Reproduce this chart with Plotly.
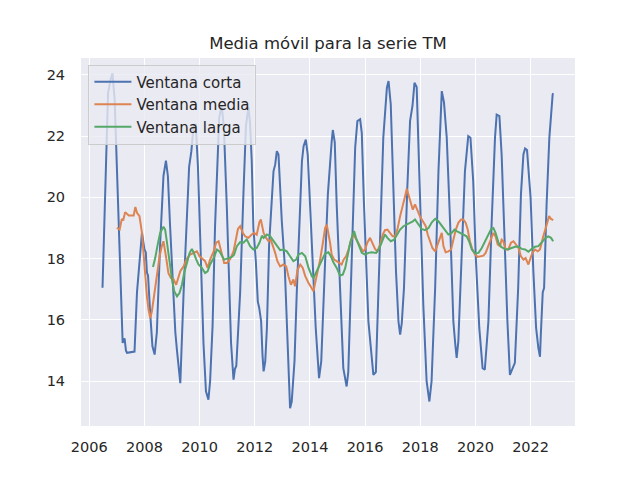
import plotly.graph_objects as go

# ---------------- data (decimal years) ----------------
corta_x = [2006.48, 2006.58, 2006.68, 2006.76, 2006.84, 2006.92, 2006.97, 2007.04, 2007.12, 2007.21,
           2007.28, 2007.33, 2007.37, 2007.64, 2007.73, 2007.85, 2007.91, 2008.00, 2008.05, 2008.09,
           2008.13, 2008.21, 2008.29, 2008.37, 2008.45, 2008.57, 2008.69, 2008.78, 2008.85, 2008.93,
           2009.02, 2009.12, 2009.18, 2009.30, 2009.42, 2009.54, 2009.62, 2009.70, 2009.78, 2009.86,
           2009.94, 2009.99, 2010.06, 2010.14, 2010.23, 2010.32, 2010.38, 2010.47, 2010.56, 2010.65,
           2010.71, 2010.80, 2010.88, 2010.99, 2011.07, 2011.14, 2011.23, 2011.28, 2011.33, 2011.47,
           2011.59, 2011.68, 2011.77, 2011.83, 2011.89, 2011.95, 2012.04, 2012.11, 2012.16, 2012.23,
           2012.28, 2012.32, 2012.38, 2012.44, 2012.52, 2012.62, 2012.68, 2012.74, 2012.80, 2012.86,
           2012.92, 2012.98, 2013.08, 2013.16, 2013.22, 2013.28, 2013.34, 2013.44, 2013.52, 2013.61,
           2013.71, 2013.77, 2013.85, 2013.92, 2014.01, 2014.07, 2014.13, 2014.21, 2014.29, 2014.33,
           2014.41, 2014.49, 2014.55, 2014.65, 2014.71, 2014.79, 2014.83, 2014.90, 2014.97, 2015.09,
           2015.21, 2015.33, 2015.39, 2015.52, 2015.64, 2015.72, 2015.82, 2015.88, 2015.96, 2016.12,
           2016.30, 2016.39, 2016.52, 2016.66, 2016.79, 2016.85, 2016.93, 2017.03, 2017.12, 2017.21,
           2017.27, 2017.33, 2017.41, 2017.53, 2017.63, 2017.72, 2017.79, 2017.87, 2017.93, 2018.02,
           2018.11, 2018.23, 2018.33, 2018.41, 2018.54, 2018.66, 2018.78, 2018.86, 2018.96, 2019.08,
           2019.20, 2019.27, 2019.32, 2019.38, 2019.50, 2019.62, 2019.74, 2019.82, 2019.92, 2020.01,
           2020.14, 2020.26, 2020.34, 2020.47, 2020.59, 2020.71, 2020.77, 2020.87, 2020.95, 2021.07,
           2021.16, 2021.25, 2021.35, 2021.43, 2021.55, 2021.65, 2021.74, 2021.80, 2021.87, 2021.95,
           2022.00, 2022.10, 2022.20, 2022.28, 2022.34, 2022.37, 2022.44, 2022.49, 2022.58, 2022.68,
           2022.74, 2022.80, 2022.82]
corta_y = [17.05, 20.2, 23.4, 23.8, 24.05, 23.2, 21.8, 19.6, 17.4, 15.25,
           15.4, 15.0, 14.93, 14.97, 16.9, 18.4, 18.85, 18.3, 18.2, 17.55,
           17.45, 16.2, 15.14, 14.87, 15.6, 18.5, 20.7, 21.2, 20.7, 19.06,
           17.4, 15.6, 15.0, 13.94, 16.9, 19.6, 21.0, 21.5, 22.3, 22.4,
           21.0, 19.6, 17.43, 15.25, 13.67, 13.4, 14.0, 15.8, 19.06, 21.24,
           22.6, 23.0, 22.3, 19.6, 17.4, 15.25, 14.05, 14.4, 14.5, 16.9,
           20.15, 22.33, 22.95, 22.4, 21.2, 19.0, 17.9, 16.6, 16.4, 15.96,
           14.87, 14.32, 14.65, 15.74, 18.46, 20.1, 20.86, 21.07, 21.51, 21.4,
           20.1, 19.22, 17.9, 15.74, 14.21, 13.12, 13.34, 14.65, 16.83, 19.0,
           21.18, 21.67, 21.89, 21.4, 19.55, 18.13, 16.83, 15.74, 14.65, 14.1,
           14.65, 16.28, 17.9, 20.1, 20.97, 21.84, 22.2, 21.8, 19.77, 17.05,
           14.43, 13.83, 14.3, 18.13, 21.62, 22.49, 22.55, 22.1, 19.77, 15.95,
           14.21, 14.3, 18.13, 21.95, 23.58, 23.8, 23.04, 20.31, 17.59, 15.95,
           15.52, 15.9, 17.05, 20.31, 22.49, 23.0, 23.74, 23.6, 21.95, 19.22,
           16.5, 14.0, 13.34, 14.0, 17.05, 20.86, 23.47, 23.1, 21.95, 19.22,
           15.95, 15.2, 14.76, 15.3, 18.13, 20.86, 22.0, 21.95, 20.53, 18.1,
           15.74, 14.43, 14.38, 15.95, 19.22, 21.95, 22.7, 22.65, 21.4, 18.13,
           15.95, 14.21, 14.4, 14.6, 17.05, 20.1, 21.4, 21.6, 21.55, 20.5,
           19.99, 17.6, 15.74, 15.1, 14.8, 15.5, 16.9, 17.05, 19.77, 21.95,
           22.82, 23.36, 23.4]

media_x = [2007.00, 2007.10, 2007.18, 2007.23, 2007.30, 2007.43, 2007.61, 2007.67, 2007.73, 2007.82,
           2007.91, 2007.95, 2008.03, 2008.09, 2008.15, 2008.21, 2008.27, 2008.36, 2008.45, 2008.55,
           2008.63, 2008.69, 2008.78, 2008.87, 2008.96, 2009.06, 2009.15, 2009.24, 2009.30, 2009.42,
           2009.52, 2009.64, 2009.76, 2009.90, 2010.00, 2010.08, 2010.20, 2010.29, 2010.38, 2010.51,
           2010.60, 2010.69, 2010.75, 2010.81, 2010.89, 2010.99, 2011.11, 2011.23, 2011.33, 2011.39,
           2011.47, 2011.57, 2011.65, 2011.77, 2011.89, 2011.98, 2012.07, 2012.17, 2012.22, 2012.32,
           2012.41, 2012.50, 2012.58, 2012.65, 2012.74, 2012.82, 2012.92, 2013.04, 2013.14, 2013.22,
           2013.31, 2013.40, 2013.46, 2013.55, 2013.65, 2013.74, 2013.83, 2013.95, 2014.07, 2014.13,
           2014.19, 2014.27, 2014.37, 2014.47, 2014.55, 2014.61, 2014.67, 2014.73, 2014.79, 2014.88,
           2014.97, 2015.07, 2015.15, 2015.22, 2015.31, 2015.40, 2015.48, 2015.58, 2015.72, 2015.82,
           2015.92, 2016.00, 2016.08, 2016.18, 2016.28, 2016.36, 2016.45, 2016.54, 2016.64, 2016.72,
           2016.81, 2016.91, 2017.00, 2017.09, 2017.17, 2017.27, 2017.37, 2017.45, 2017.51, 2017.57,
           2017.63, 2017.73, 2017.81, 2017.90, 2018.00, 2018.11, 2018.20, 2018.27, 2018.36, 2018.44,
           2018.54, 2018.63, 2018.72, 2018.78, 2018.84, 2018.92, 2019.02, 2019.12, 2019.20, 2019.29,
           2019.38, 2019.48, 2019.56, 2019.65, 2019.72, 2019.80, 2019.89, 2019.99, 2020.08, 2020.17,
           2020.29, 2020.37, 2020.47, 2020.57, 2020.65, 2020.73, 2020.81, 2020.89, 2020.95, 2021.01,
           2021.10, 2021.19, 2021.29, 2021.38, 2021.46, 2021.56, 2021.65, 2021.74, 2021.82, 2021.92,
           2021.98, 2022.06, 2022.16, 2022.26, 2022.34, 2022.40, 2022.46, 2022.55, 2022.62, 2022.67,
           2022.74, 2022.82]
media_y = [19.01, 18.95, 19.3, 19.25, 19.52, 19.41, 19.41, 19.69, 19.5, 19.39,
           18.84, 18.3, 17.32, 16.77, 16.33, 16.06, 16.28, 16.88, 17.53, 18.08,
           18.41, 18.57, 18.08, 17.53, 17.37, 17.32, 17.15, 17.43, 17.59, 17.75,
           17.97, 18.13, 18.19, 18.24, 18.08, 18.02, 17.92, 17.7, 17.97, 18.24,
           18.52, 18.57, 18.35, 18.08, 17.86, 17.86, 17.99, 18.24, 18.63, 18.97,
           19.06, 18.84, 18.73, 18.68, 18.79, 18.84, 18.78, 19.2, 19.28, 18.84,
           18.68, 18.57, 18.62, 18.46, 18.19, 17.92, 17.75, 17.81, 17.75, 17.43,
           17.15, 17.32, 17.1, 17.64, 17.81, 17.7, 17.43, 17.21, 17.04, 16.94,
           17.21, 17.53, 17.97, 18.52, 19.0, 19.11, 18.84, 18.52, 18.13, 17.97,
           17.92, 17.86, 17.81, 17.97, 18.08, 18.3, 18.57, 18.79, 18.57, 18.41,
           18.24, 18.3, 18.52, 18.68, 18.46, 18.32, 18.24, 18.46, 18.79, 18.93,
           18.95, 18.84, 18.73, 18.73, 18.95, 19.39, 19.71, 20.04, 20.28, 20.1,
           19.88, 19.6, 19.77, 19.55, 19.36, 19.2, 19.06, 18.79, 18.57, 18.35,
           18.24, 18.46, 18.73, 18.84, 18.41, 18.21, 18.24, 18.3, 18.62, 18.95,
           19.17, 19.28, 19.28, 19.17, 18.95, 18.57, 18.3, 18.13, 18.06, 18.08,
           18.1, 18.19, 18.41, 18.68, 18.84, 18.73, 18.46, 18.41, 18.62, 18.57,
           18.3, 18.3, 18.52, 18.57, 18.46, 18.35, 18.08, 17.97, 18.02, 17.81,
           17.97, 18.19, 18.3, 18.24, 18.3, 18.57, 18.73, 19.0, 19.28, 19.39,
           19.3, 19.26]

larga_x = [2008.31, 2008.39, 2008.48, 2008.57, 2008.69, 2008.75, 2008.81, 2008.91, 2009.00, 2009.08,
           2009.18, 2009.27, 2009.36, 2009.44, 2009.54, 2009.64, 2009.72, 2009.78, 2009.88, 2009.96,
           2010.08, 2010.20, 2010.29, 2010.38, 2010.51, 2010.63, 2010.72, 2010.81, 2010.89, 2011.05,
           2011.17, 2011.25, 2011.35, 2011.47, 2011.59, 2011.71, 2011.83, 2011.95, 2012.07, 2012.17,
           2012.26, 2012.32, 2012.44, 2012.56, 2012.68, 2012.80, 2012.92, 2013.04, 2013.16, 2013.28,
           2013.40, 2013.50, 2013.58, 2013.71, 2013.83, 2013.95, 2014.07, 2014.13, 2014.22, 2014.31,
           2014.43, 2014.55, 2014.67, 2014.76, 2014.85, 2014.97, 2015.09, 2015.19, 2015.28, 2015.36,
           2015.46, 2015.55, 2015.60, 2015.67, 2015.76, 2015.88, 2016.00, 2016.12, 2016.24, 2016.40,
           2016.52, 2016.64, 2016.72, 2016.81, 2016.93, 2017.05, 2017.17, 2017.27, 2017.39, 2017.51,
           2017.63, 2017.73, 2017.81, 2017.93, 2018.05, 2018.17, 2018.30, 2018.42, 2018.54, 2018.66,
           2018.78, 2018.90, 2019.02, 2019.14, 2019.24, 2019.32, 2019.44, 2019.56, 2019.68, 2019.77,
           2019.87, 2019.99, 2020.11, 2020.23, 2020.35, 2020.47, 2020.57, 2020.65, 2020.73, 2020.83,
           2020.93, 2021.05, 2021.17, 2021.31, 2021.44, 2021.56, 2021.68, 2021.80, 2021.92, 2022.04,
           2022.16, 2022.28, 2022.38, 2022.46, 2022.55, 2022.64, 2022.74, 2022.82]
larga_y = [17.73, 18.02, 18.46, 18.84, 19.04, 18.95, 18.57, 17.86, 17.32, 16.94,
           16.77, 16.88, 17.15, 17.53, 17.86, 18.19, 18.32, 18.21, 17.97, 17.81,
           17.7, 17.53, 17.59, 17.81, 18.02, 18.3, 18.24, 18.1, 17.97, 18.02,
           18.06, 18.13, 18.41, 18.54, 18.52, 18.63, 18.41, 18.3, 18.35, 18.52,
           18.75, 18.68, 18.79, 18.73, 18.57, 18.41, 18.28, 18.3, 18.24, 18.08,
           17.92, 17.97, 18.13, 18.19, 18.08, 17.7, 17.43, 17.37, 17.54, 17.7,
           17.97, 18.17, 18.21, 18.08, 17.88, 17.7, 17.45, 17.48, 17.7, 18.08,
           18.52, 18.79, 18.9, 18.68, 18.46, 18.19, 18.13, 18.19, 18.21, 18.19,
           18.35, 18.62, 18.79, 18.68, 18.57, 18.62, 18.79, 18.95, 19.06, 19.11,
           19.17, 19.22, 19.28, 19.11, 18.97, 18.93, 19.0, 19.19, 19.3, 19.22,
           19.08, 18.9, 18.79, 18.84, 18.95, 18.9, 18.84, 18.79, 18.73, 18.57,
           18.3, 18.17, 18.19, 18.35, 18.57, 18.79, 18.97, 19.0, 18.84, 18.54,
           18.39, 18.32, 18.3, 18.35, 18.39, 18.39, 18.32, 18.3, 18.23, 18.32,
           18.39, 18.41, 18.52, 18.57, 18.68, 18.73, 18.68, 18.57]

series_names = ["Ventana corta", "Ventana media", "Ventana larga"]
series_colors = ["#4C72B0", "#DD8452", "#55A868"]
x_tick_vals = [2006, 2008, 2010, 2012, 2014, 2016, 2018, 2020, 2022]
x_tick_text = ["2006", "2008", "2010", "2012", "2014", "2016", "2018", "2020", "2022"]
y_tick_vals = [14, 16, 18, 20, 22, 24]
y_tick_text = ["14", "16", "18", "20", "22", "24"]
title_text = "Media móvil para la serie TM"

# ---------------- figure ----------------
FONT = "DejaVu Sans"
TXT = "#262626"

fig = go.Figure()
for name, color, xs, ys in zip(series_names, series_colors,
                               [corta_x, media_x, larga_x],
                               [corta_y, media_y, larga_y]):
    fig.add_trace(go.Scatter(x=xs, y=ys, mode="lines", name=name,
                             line=dict(color=color, width=2)))

fig.update_layout(
    width=640, height=480,
    margin=dict(l=81, r=65, t=58, b=54),
    paper_bgcolor="white",
    plot_bgcolor="#EAEAF2",
    font=dict(family=FONT, color=TXT, size=14.5),
    title=dict(text=title_text, x=0.5, xref="paper", xanchor="center",
               y=(480 - 43) / 480, yref="container", yanchor="middle",
               font=dict(family=FONT, size=16.5, color=TXT)),
    showlegend=True,
    legend=dict(x=0.015, y=0.982, xanchor="left", yanchor="top",
                bgcolor="rgba(234,234,242,0.8)", bordercolor="#CCCCCC", borderwidth=1,
                font=dict(family=FONT, size=15, color=TXT),
                itemwidth=37, tracegroupgap=0),
)
fig.update_xaxes(range=[2005.70, 2023.61], tickvals=x_tick_vals, ticktext=x_tick_text,
                 showgrid=True, gridcolor="white", gridwidth=1.3, zeroline=False,
                 showline=False, ticks="outside", ticklen=8, tickcolor="rgba(0,0,0,0)",
                 tickfont=dict(family=FONT, size=14.5, color=TXT))
fig.update_yaxes(range=[12.54, 24.55], tickvals=y_tick_vals, ticktext=y_tick_text,
                 showgrid=True, gridcolor="white", gridwidth=1.3, zeroline=False,
                 showline=False, ticks="outside", ticklen=12, tickcolor="rgba(0,0,0,0)",
                 tickfont=dict(family=FONT, size=14.5, color=TXT))

fig.write_html("out.html", config={"displayModeBar": False},
               post_script="document.body.style.margin='0';")
